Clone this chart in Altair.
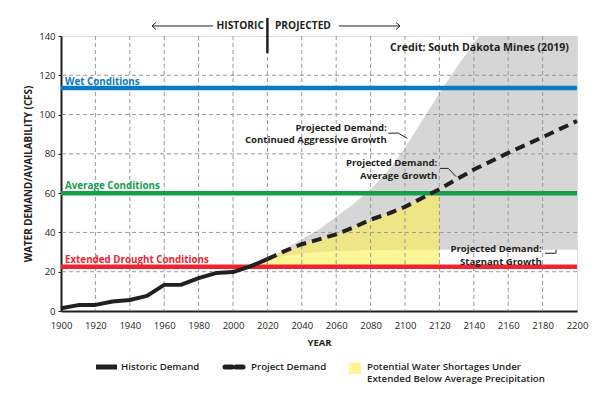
import altair as alt
import pandas as pd

FONT = "Open Sans"
INK = "#231f20"

# ---------------- data ----------------
hist_years = [1900, 1910, 1920, 1930, 1940, 1950, 1960, 1970, 1980, 1990, 2000, 2010, 2020]
hist_vals = [1.4, 3.0, 3.1, 4.8, 5.6, 7.7, 13.3, 13.4, 16.7, 19.3, 19.8, 22.7, 26.4]

proj_years = [2020, 2030, 2040, 2050, 2060, 2070, 2080, 2090, 2100, 2110, 2120, 2140, 2160, 2180, 2200]
proj_vals = [26.4, 30.5, 34.0, 36.5, 39.0, 42.5, 46.5, 49.5, 53.0, 57.5, 62.0, 72.0, 80.5, 88.5, 96.7]

range_years = [2020, 2030, 2040, 2050, 2060, 2070, 2080, 2090, 2100, 2110, 2120, 2130, 2143, 2160, 2180, 2200]
aggressive_upper = [26.5, 31.5, 36.5, 41.5, 48.0, 54.5, 62.0, 71.0, 83.0, 97.0, 111.0, 124.0, 140.0, 140.0, 140.0, 140.0]
stagnant_lower = [26.5, 28.0, 29.3, 30.0, 30.5, 30.8, 31.0, 31.1, 31.2, 31.2, 31.2, 31.2, 31.2, 31.2, 31.2, 31.2]

short_years = [2010, 2020, 2030, 2040, 2050, 2060, 2070, 2080, 2090, 2100, 2110, 2120]
short_top = [22.7, 26.4, 30.5, 34.0, 36.5, 39.0, 42.5, 46.5, 49.5, 53.0, 57.5, 62.0]

cond_names = ["Wet Conditions", "Average Conditions", "Extended Drought Conditions"]
cond_vals = [113.5, 60.0, 22.5]
cond_colors = ["#0a7bc2", "#12a04a", "#ee2430"]

x_ticks = list(range(1900, 2201, 20))
y_ticks = list(range(0, 141, 20))

# ---------------- scales / axes ----------------
xscale = alt.Scale(domain=[1900, 2200], nice=False, zero=False)
yscale = alt.Scale(domain=[0, 140], nice=False)
xaxis = alt.Axis(values=x_ticks, format="d", grid=False, ticks=False,
                 domainColor=INK, domainWidth=2, labelFont=FONT, labelFontSize=9.5,
                 labelColor=INK, labelPadding=9, titleFont=FONT, titleFontSize=9.5,
                 titleFontWeight="bold", titleColor=INK, titlePadding=8,
                 labelFlush=False)
yaxis = alt.Axis(values=y_ticks, grid=False, ticks=True, tickSize=3, tickColor=INK,
                 tickWidth=1, domainColor=INK, domainWidth=2, labelFont=FONT,
                 labelFontSize=9.5, labelColor=INK, labelPadding=3, titleFont=FONT,
                 titleFontSize=9.8, titleFontWeight="bold", titleColor=INK,
                 titlePadding=5)


def X(f):
    return alt.X(f, type="quantitative", scale=xscale, axis=xaxis, title="YEAR")


def Y(f):
    return alt.Y(f, type="quantitative", scale=yscale, axis=yaxis,
                 title="WATER DEMAND/AVAILABILITY (CFS)")


range_df = pd.DataFrame({"year": range_years, "hi": aggressive_upper, "lo": stagnant_lower})
short_df = pd.DataFrame({"year": short_years, "hi": short_top, "lo": [cond_vals[2]] * len(short_years)})
hist_df = pd.DataFrame({"year": hist_years, "v": hist_vals})
proj_df = pd.DataFrame({"year": proj_years, "v": proj_vals})
cond_df = pd.DataFrame({"name": cond_names, "v": cond_vals, "c": cond_colors})
vgrid_df = pd.DataFrame({"year": x_ticks[1:-1]})
hgrid_df = pd.DataFrame({"v": y_ticks[1:-1]})

grey = alt.Chart(range_df).mark_area(color="#d6d6d6", opacity=1).encode(
    x=X("year"), y=Y("hi"), y2="lo")
yellow = alt.Chart(short_df).mark_area(color="#fbee50", opacity=0.6).encode(
    x=X("year"), y=Y("hi"), y2="lo")

vgrid = alt.Chart(vgrid_df).mark_rule(color="#9a9a9a", strokeWidth=1, strokeDash=[4, 3]).encode(
    x=X("year"))
hgrid = alt.Chart(hgrid_df).mark_rule(color="#9a9a9a", strokeWidth=1, strokeDash=[4, 3]).encode(
    y=Y("v"))

cond_rules = alt.Chart(cond_df).mark_rule(strokeWidth=4.5).encode(
    y=Y("v"), color=alt.Color("c:N", scale=None))

hist_line = alt.Chart(hist_df).mark_line(color=INK, strokeWidth=4, strokeJoin="round").encode(
    x=X("year"), y=Y("v"))
proj_line = alt.Chart(proj_df).mark_line(color=INK, strokeWidth=4, strokeDash=[10, 6]).encode(
    x=X("year"), y=Y("v"))

# condition labels
cond_lab_df = pd.DataFrame({"name": cond_names, "x": [1902.3] * 3, "y": [116.6, 63.6, 26.0], "c": cond_colors})
cond_labels = alt.Chart(cond_lab_df).mark_text(align="left", baseline="middle", font=FONT,
                                               fontSize=9.8, fontWeight="bold").encode(
    x=X("x"), y=Y("y"), text="name:N", color=alt.Color("c:N", scale=None))

# annotations
ann_df = pd.DataFrame({
    "t": ["Projected Demand:", "Continued Aggressive Growth",
          "Projected Demand:", "Average Growth",
          "Projected Demand:", "Stagnant Growth"],
    "x": [2089.4, 2089.4, 2118.8, 2118.8, 2179.5, 2179.5],
    "y": [93.4, 87.0, 75.2, 68.8, 31.5, 25.2],
})
ann = alt.Chart(ann_df).mark_text(align="right", baseline="middle", font=FONT, fontSize=9.6,
                                  fontWeight="bold", color=INK).encode(
    x=X("x"), y=Y("y"), text="t:N")

lead_df = pd.DataFrame({
    "g": [1, 1, 1, 2, 2, 2, 3, 3, 3],
    "o": [0, 1, 2, 0, 1, 2, 0, 1, 2],
    "x": [2090.3, 2096.1, 2101.3, 2120.3, 2125.2, 2129.7, 2181.4, 2187.8, 2187.8],
    "y": [90.5, 90.6, 87.9, 72.6, 72.6, 68.4, 29.4, 29.4, 31.1],
})
leaders = alt.Chart(lead_df).mark_line(color=INK, strokeWidth=1).encode(
    x=X("x"), y=Y("y"), detail="g:N", order="o:Q")

credit_df = pd.DataFrame({"t": ["Credit: South Dakota Mines (2019)"], "x": [2195.3], "y": [133.9]})
credit = alt.Chart(credit_df).mark_text(align="right", baseline="middle", font=FONT, fontSize=10.6,
                                        fontWeight="bold", color=INK).encode(
    x=X("x"), y=Y("y"), text="t:N")

# top HISTORIC | PROJECTED
top_df = pd.DataFrame({"t": ["HISTORIC", "PROJECTED"], "x": [2018.0, 2024.4], "y": [145.1, 145.1]})
top_hist = alt.Chart(top_df.iloc[[0]]).mark_text(align="right", baseline="middle", font=FONT,
                                                  fontSize=10.2, fontWeight="bold", color=INK).encode(
    x=X("x"), y=Y("y"), text="t:N")
top_proj = alt.Chart(top_df.iloc[[1]]).mark_text(align="left", baseline="middle", font=FONT,
                                                  fontSize=10.2, fontWeight="bold", color=INK).encode(
    x=X("x"), y=Y("y"), text="t:N")

divider_df = pd.DataFrame({"x": [2020], "y": [131.3], "y2": [149.2]})
divider = alt.Chart(divider_df).mark_rule(color=INK, strokeWidth=2.5).encode(
    x=X("x"), y=Y("y"), y2="y2")

arrow_df = pd.DataFrame({
    "g": [1, 1, 2, 2, 2, 3, 3, 4, 4, 4],
    "o": [0, 1, 0, 1, 2, 0, 1, 0, 1, 2],
    "x": [1988.4, 1952.9, 1955.2, 1952.9, 1955.2, 2061.6, 2097.1, 2094.8, 2097.1, 2094.8],
    "y": [145.1, 145.1, 146.9, 145.1, 143.3, 145.1, 145.1, 146.9, 145.1, 143.3],
})
arrows = alt.Chart(arrow_df).mark_line(color=INK, strokeWidth=1).encode(
    x=X("x"), y=Y("y"), detail="g:N", order="o:Q")

# ---------------- legend (pixel layout below plot) ----------------
leg_hist = alt.Chart(pd.DataFrame({"k": [0]})).mark_rule(color=INK, strokeWidth=5).encode(
    x=alt.value(35), x2=alt.value(56), y=alt.value(331))
leg_proj = alt.Chart(pd.DataFrame({"k": [0]})).mark_rule(color=INK, strokeWidth=5, strokeDash=[7, 4],
                                                         strokeCap="round").encode(
    x=alt.value(164), x2=alt.value(185), y=alt.value(331))
leg_sq = alt.Chart(pd.DataFrame({"k": [0]})).mark_rect(color="#fdf596").encode(
    x=alt.value(288), x2=alt.value(300), y=alt.value(326.5), y2=alt.value(338))

leg_txt = []
for t, px, py in [("Historic Demand", 60, 331), ("Project  Demand", 190, 331),
                  ("Potential Water Shortages Under", 306, 331),
                  ("Extended Below Average Precipitation", 306, 343)]:
    leg_txt.append(alt.Chart(pd.DataFrame({"t": [t]})).mark_text(
        align="left", baseline="middle", font=FONT, fontSize=9.7, fontWeight=600, color=INK).encode(
        x=alt.value(px), y=alt.value(py), text="t:N"))

chart = alt.layer(
    grey, yellow, vgrid, hgrid, cond_rules, hist_line, proj_line,
    cond_labels, ann, leaders, credit, top_hist, top_proj, divider, arrows,
    leg_hist, leg_proj, leg_sq, *leg_txt
).properties(
    width=516, height=275,
    autosize=alt.AutoSizeParams(type="none"),
    padding={"left": 53, "top": 28, "right": 26, "bottom": 78},
).configure_view(
    stroke=INK, strokeWidth=1.5
).configure(background="white")

chart.save("out.html", embed_options={"renderer": "svg", "actions": False})
